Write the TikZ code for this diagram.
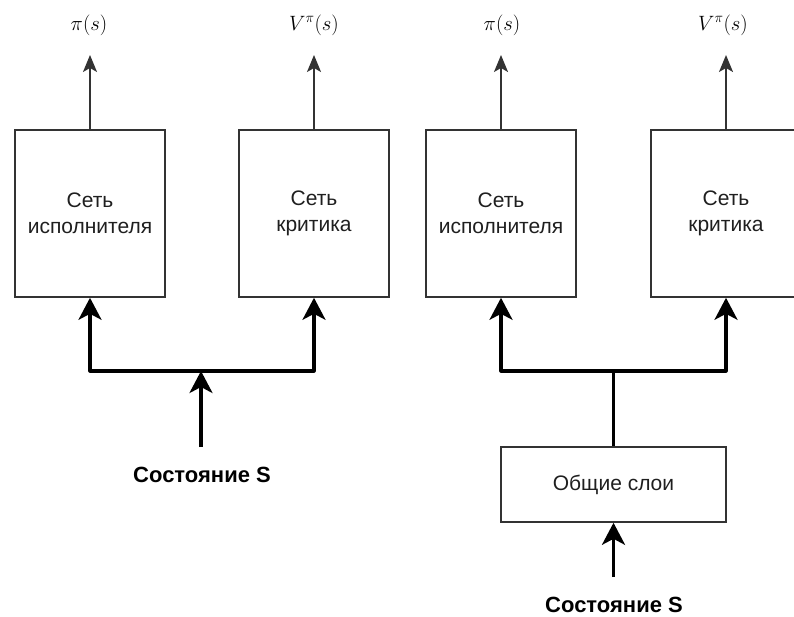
\documentclass[tikz,border=0pt]{standalone}
\usepackage[no-math]{fontspec}
\setmainfont{Liberation Sans}
\usetikzlibrary{arrows.meta}

\begin{document}
\begin{tikzpicture}[x=1pt,y=-1pt,
  netbox/.style={draw=black!80, line width=1.6pt, minimum width=150pt, minimum height=167pt,
    inner sep=0pt, align=center, text=black!88,
    font=\fontsize{21}{26}\selectfont},
  layerbox/.style={netbox, minimum width=225pt, minimum height=75pt},
  outlabel/.style={font=\fontsize{21}{24}\selectfont, inner sep=0pt},
  inlabel/.style={font=\fontsize{22}{25}\selectfont\bfseries, inner sep=0pt},
  outarrow/.style={draw=black!80, line width=1.6pt,
    -{Stealth[length=17pt, width=14pt, inset=4pt]}},
  bus/.style={draw=black, line width=3.2pt, line join=round,
    -{Stealth[length=22pt, width=23pt, inset=6pt]}},
  busline/.style={draw=black, line width=3.2pt, line join=round}
]
\clip (0,0) rectangle (794,616);

% separate actor and critic networks
\node[netbox] (a1) at (90,213.5) {Сеть\\исполнителя};
\node[netbox] (c1) at (314,213.5) {Сеть\\критика};
% networks with shared layers
\node[netbox] (a2) at (501,213.5) {Сеть\\исполнителя};
\node[netbox] (c2) at (726,213.5) {Сеть\\критика};
\node[layerbox] (sh) at (613.5,484.5) {Общие слои};

% outputs
\node[outlabel] (pa1) at (89,25) {$\pi(s)$};
\node[outlabel] (pc1) at (314,25) {$V^{\pi}(s)$};
\node[outlabel] (pa2) at (502,25) {$\pi(s)$};
\node[outlabel] (pc2) at (723,25) {$V^{\pi}(s)$};
\coordinate (top) at (0,55);
\draw[outarrow] (a1.north) -- (a1.north |- top);
\draw[outarrow] (c1.north) -- (c1.north |- top);
\draw[outarrow] (a2.north) -- (a2.north |- top);
\draw[outarrow] (c2.north) -- (c2.north |- top);

% state inputs
\node[inlabel] (s1) at (202,475) {Состояние S};
\node[inlabel] (s2) at (614,605) {Состояние S};

% left: state fed to both networks
\coordinate (j1) at (201,371);
\coordinate (f1) at (201,447);
\draw[bus] (j1) -| (a1.south);
\draw[bus] (j1) -| (c1.south);
\draw[bus] (f1) -- (j1);

% right: shared layers feed both networks
\coordinate (j2) at (613.5,371);
\coordinate (f2) at (613.5,577);
\draw[bus] (j2) -| (a2.south);
\draw[bus] (j2) -| (c2.south);
\draw[busline] (sh.north) -- (j2);
\draw[bus] (f2) -- (sh.south);
\end{tikzpicture}
\end{document}
